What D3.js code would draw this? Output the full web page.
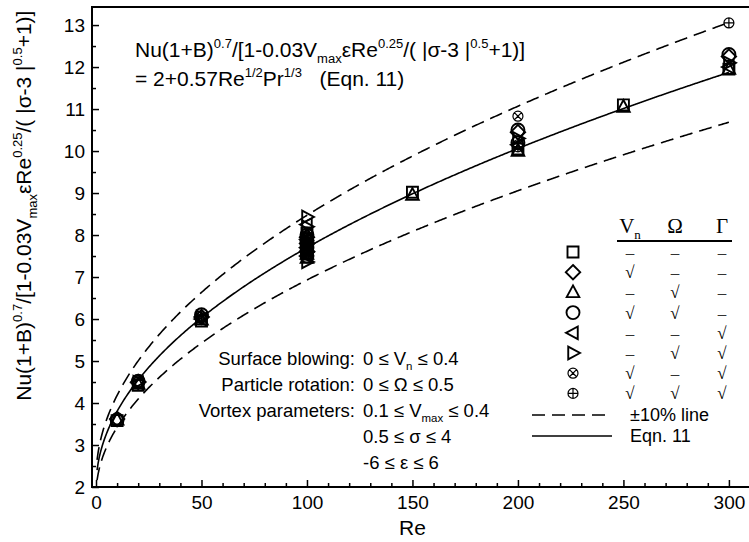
<!DOCTYPE html>
<html>
<head>
<meta charset="utf-8">
<script src="https://cdn.jsdelivr.net/npm/d3@7"></script>
<style>
  body { margin: 0; background: #fff; }
  svg { display: block; }
  text { font-family: "Liberation Sans", Arial, sans-serif; fill: #000; }
  .serif { font-family: "Liberation Serif", "Times New Roman", serif; }
</style>
</head>
<body>
<div id="chart"></div>
<script>
"use strict";

// ---- data ----
var xTicks = [0, 50, 100, 150, 200, 250, 300];
var yTicks = [2, 3, 4, 5, 6, 7, 8, 9, 10, 11, 12, 13];

// [Re, ordinate] for each marker type
var squarePts  = [[10, 3.58], [20, 4.42], [50, 5.95], [100, 7.65], [100, 7.9], [100, 7.55], [100, 8.05], [150, 9.02], [200, 10.05], [250, 11.1], [300, 11.95]];
var diamondPts = [[10, 3.62], [20, 4.5], [50, 6.05], [100, 7.8], [100, 7.6], [100, 7.95], [200, 10.45], [300, 12.25]];
var triUpPts   = [[10, 3.6], [20, 4.45], [50, 5.98], [100, 7.55], [100, 7.75], [100, 7.45], [100, 8.0], [150, 8.95], [200, 10.0], [250, 11.05], [300, 11.95]];
var circlePts  = [[10, 3.6], [20, 4.52], [50, 6.1], [100, 7.85], [100, 8.0], [100, 7.7], [100, 7.5], [200, 10.5], [200, 10.2], [300, 12.3]];
var triLeftPts = [[20, 4.48], [50, 6.0], [100, 7.5], [100, 7.7], [100, 7.9], [100, 8.25], [200, 10.15], [300, 12.0]];
var triRightPts = [[20, 4.5], [50, 6.05], [100, 8.43], [100, 8.2], [100, 7.8], [100, 7.6], [100, 7.36], [200, 10.3], [300, 12.1]];
var otimesPts  = [[50, 6.05], [100, 7.95], [100, 7.7], [100, 7.55], [200, 10.83], [200, 10.15]];
var oplusPts   = [[50, 6.0], [100, 7.6], [100, 7.85], [100, 8.05], [200, 10.1], [300, 13.05]];

// legend table: V_n, Omega, Gamma
var tableHeads = ["V", "\u03A9", "\u0393"];
var tableRows = [
  ["square",   ["\u2013", "\u2013", "\u2013"]],
  ["diamond",  ["\u221A", "\u2013", "\u2013"]],
  ["triUp",    ["\u2013", "\u221A", "\u2013"]],
  ["circle",   ["\u221A", "\u221A", "\u2013"]],
  ["triLeft",  ["\u2013", "\u2013", "\u221A"]],
  ["triRight", ["\u2013", "\u221A", "\u221A"]],
  ["otimes",   ["\u221A", "\u2013", "\u221A"]],
  ["oplus",    ["\u221A", "\u221A", "\u221A"]]
];

// Eqn. 11 constants
var eqnA = 2, eqnB = 0.57, eqnPr = 1, band = 0.1;

(function () {

  var series = [
    { type: "square", pts: squarePts },
    { type: "diamond", pts: diamondPts },
    { type: "triUp", pts: triUpPts },
    { type: "circle", pts: circlePts },
    { type: "triLeft", pts: triLeftPts },
    { type: "triRight", pts: triRightPts },
    { type: "otimes", pts: otimesPts },
    { type: "oplus", pts: oplusPts }
  ];

  var width = 749, height = 542;
  var pLeft = 92, pRight = 750, pTop = 7, pBottom = 487;

  var x = d3.scaleLinear().domain([-1.9, 310]).range([pLeft, pRight]);
  var y = d3.scaleLinear().domain([2, 13.43]).range([pBottom, pTop]);

  var svg = d3.select("#chart").append("svg")
    .attr("width", width).attr("height", height);

  svg.append("defs").append("clipPath").attr("id", "plotClip")
    .append("rect").attr("x", pLeft).attr("y", pTop)
    .attr("width", pRight - pLeft).attr("height", pBottom - pTop);

  /** writes text with sup / sub parts */
  function rich(sel, parts, size) {
    var shift = 0;
    parts.forEach(function (p) {
      var target = p[1] === "sup" ? -0.42 * size : p[1] === "sub" ? 0.28 * size : 0;
      sel.append("tspan")
        .attr("dy", target - shift)
        .style("font-size", (p[1] ? 0.62 * size : size) + "px")
        .text(p[0]);
      shift = target;
    });
    return sel;
  }

  /** marker path around 0,0 */
  function markerPath(type) {
    var p = d3.path(), r;
    if (type === "square") {
      r = 5.5; p.rect(-r, -r, 2 * r, 2 * r);
    } else if (type === "diamond") {
      r = 7.2; p.moveTo(0, -r); p.lineTo(r, 0); p.lineTo(0, r); p.lineTo(-r, 0); p.closePath();
    } else if (type === "triUp" || type === "triLeft" || type === "triRight") {
      r = 7; p.moveTo(0, -r); p.lineTo(r * 0.9, r * 0.68); p.lineTo(-r * 0.9, r * 0.68); p.closePath();
    } else if (type === "circle") {
      r = 6.5; p.moveTo(r, 0); p.arc(0, 0, r, 0, 2 * Math.PI);
    } else {
      r = 5; p.moveTo(r, 0); p.arc(0, 0, r, 0, 2 * Math.PI);
      if (type === "otimes") {
        var k = r * 0.707;
        p.moveTo(-k, -k); p.lineTo(k, k); p.moveTo(k, -k); p.lineTo(-k, k);
      } else {
        p.moveTo(-r, 0); p.lineTo(r, 0); p.moveTo(0, -r); p.lineTo(0, r);
      }
    }
    return p.toString();
  }

  function markerRotate(type) {
    if (type === "triLeft") return " rotate(-90)";
    if (type === "triRight") return " rotate(90)";
    return "";
  }

  function drawMarker(g, type, px, py) {
    var small = type === "otimes" || type === "oplus";
    g.append("path")
      .attr("d", markerPath(type))
      .attr("transform", "translate(" + px + "," + py + ")" + markerRotate(type))
      .attr("fill", "none")
      .attr("stroke", "#000")
      .attr("stroke-width", small ? 1.2 : 1.9);
  }

  // ---- axes ----
  var xMinor = d3.range(0, 311, 10).filter(function (v) { return v % 50 !== 0; });
  var yMinor = d3.range(2.5, 13.5, 1);

  svg.append("g").attr("transform", "translate(0," + pBottom + ")")
    .call(d3.axisBottom(x).tickValues(xTicks).tickSizeInner(-7).tickSizeOuter(0).tickPadding(9));
  svg.append("g").attr("transform", "translate(0," + pBottom + ")")
    .call(d3.axisBottom(x).tickValues(xMinor).tickSizeInner(-4).tickSizeOuter(0).tickFormat(""));
  svg.append("g").attr("transform", "translate(" + pLeft + ",0)")
    .call(d3.axisLeft(y).tickValues(yTicks).tickSizeInner(-7).tickSizeOuter(0).tickPadding(7));
  svg.append("g").attr("transform", "translate(" + pLeft + ",0)")
    .call(d3.axisLeft(y).tickValues(yMinor).tickSizeInner(-4).tickSizeOuter(0).tickFormat(""));

  svg.selectAll(".domain").remove();
  svg.selectAll(".tick line").attr("stroke", "#000").attr("stroke-width", 1.5);
  svg.selectAll(".tick text").attr("font-size", null).attr("font-family", null)
    .style("font-size", "19px");

  svg.append("rect")
    .attr("x", pLeft).attr("y", pTop)
    .attr("width", pRight - pLeft).attr("height", pBottom - pTop)
    .attr("fill", "none").attr("stroke", "#000").attr("stroke-width", 2);

  // axis titles
  svg.append("text")
    .attr("x", x(150)).attr("y", 535)
    .attr("text-anchor", "middle")
    .style("font-size", "21px")
    .text("Re");

  var yTitle = svg.append("text")
    .attr("transform", "translate(31," + y(8.7) + ") rotate(-90)")
    .attr("text-anchor", "middle")
    .style("font-size", "21px");
  rich(yTitle, [["Nu(1+B)"], ["0.7", "sup"], ["/[1-0.03V"], ["max", "sub"], ["\u03B5Re"], ["0.25", "sup"],
    ["/( |\u03C3-3 |"], ["0.5", "sup"], ["+1)]"]], 21);

  // ---- curves ----
  var reGrid = d3.range(0.5, 300.01, 0.5);
  function eqn11(re) { return eqnA + eqnB * Math.sqrt(re) * Math.cbrt(eqnPr); }

  var line = d3.line()
    .x(function (d) { return x(d[0]); })
    .y(function (d) { return y(d[1]); });

  var curves = svg.append("g").attr("clip-path", "url(#plotClip)");
  [1 + band, 1 - band].forEach(function (f) {
    curves.append("path")
      .datum(reGrid.map(function (re) { return [re, f * eqn11(re)]; }))
      .attr("d", line)
      .attr("fill", "none").attr("stroke", "#000")
      .attr("stroke-width", 1.6).attr("stroke-dasharray", "13,7");
  });
  curves.append("path")
    .datum(reGrid.map(function (re) { return [re, eqn11(re)]; }))
    .attr("d", line)
    .attr("fill", "none").attr("stroke", "#000").attr("stroke-width", 1.6);

  // ---- markers ----
  var marks = svg.append("g");
  series.forEach(function (s) {
    s.pts.forEach(function (d) {
      drawMarker(marks, s.type, x(d[0]), y(d[1]));
    });
  });

  // ---- equation text ----
  var eq1 = svg.append("text").attr("x", 135).attr("y", 57).style("font-size", "21px");
  rich(eq1, [["Nu(1+B)"], ["0.7", "sup"], ["/[1-0.03V"], ["max", "sub"], ["\u03B5Re"], ["0.25", "sup"],
    ["/( |\u03C3-3 |"], ["0.5", "sup"], ["+1)]"]], 21);
  var eq2 = svg.append("text").attr("x", 135).attr("y", 86).style("font-size", "21px");
  rich(eq2, [["= 2+0.57Re"], ["1/2", "sup"], ["Pr"], ["1/3", "sup"], ["\u00A0\u00A0\u00A0(Eqn. 11)"]], 21);

  // ---- parameter ranges ----
  var rangeLabels = ["Surface blowing:", "Particle rotation:", "Vortex parameters:"];
  var rangeValues = [
    [["0 \u2264 V"], ["n", "sub"], [" \u2264 0.4"]],
    [["0 \u2264 \u03A9 \u2264 0.5"]],
    [["0.1 \u2264 V"], ["max", "sub"], [" \u2264 0.4"]],
    [["0.5 \u2264 \u03C3 \u2264 4"]],
    [["-6 \u2264 \u03B5 \u2264 6"]]
  ];
  rangeLabels.forEach(function (t, i) {
    svg.append("text").attr("x", 355).attr("y", 365 + i * 26)
      .attr("text-anchor", "end").style("font-size", "18.5px").text(t);
  });
  rangeValues.forEach(function (parts, i) {
    rich(svg.append("text").attr("x", 363).attr("y", 365 + i * 26).style("font-size", "18.5px"), parts, 18.5);
  });

  // ---- legend table ----
  var colX = [630, 675, 722];
  var rowY0 = 252, rowStep = 20.2;
  var head = svg.append("text").attr("class", "serif").attr("x", colX[0]).attr("y", 233)
    .attr("text-anchor", "middle").style("font-size", "21px");
  rich(head, [[tableHeads[0]], ["n", "sub"]], 21);
  tableHeads.slice(1).forEach(function (t, i) {
    svg.append("text").attr("class", "serif").attr("x", colX[i + 1]).attr("y", 233)
      .attr("text-anchor", "middle").style("font-size", "21px").text(t);
  });
  svg.append("line").attr("x1", 617).attr("x2", 732).attr("y1", 241).attr("y2", 241)
    .attr("stroke", "#000").attr("stroke-width", 2);

  tableRows.forEach(function (row, i) {
    var ry = rowY0 + i * rowStep;
    drawMarker(svg, row[0], 573, ry);
    row[1].forEach(function (m, j) {
      svg.append("text").attr("class", "serif")
        .attr("x", colX[j]).attr("y", ry + 6)
        .attr("text-anchor", "middle").style("font-size", "17px")
        .style("fill", m === "\u2013" ? "#333" : "#000")
        .text(m);
    });
  });

  // line keys
  svg.append("line").attr("x1", 532).attr("x2", 612).attr("y1", 415).attr("y2", 415)
    .attr("stroke", "#000").attr("stroke-width", 1.6).attr("stroke-dasharray", "13,7");
  svg.append("line").attr("x1", 532).attr("x2", 612).attr("y1", 436).attr("y2", 436)
    .attr("stroke", "#000").attr("stroke-width", 1.6);
  svg.append("text").attr("x", 630).attr("y", 421).style("font-size", "18px").text("\u00B110% line");
  svg.append("text").attr("x", 630).attr("y", 442).style("font-size", "18px").text("Eqn. 11");

})();
</script>
</body>
</html>
